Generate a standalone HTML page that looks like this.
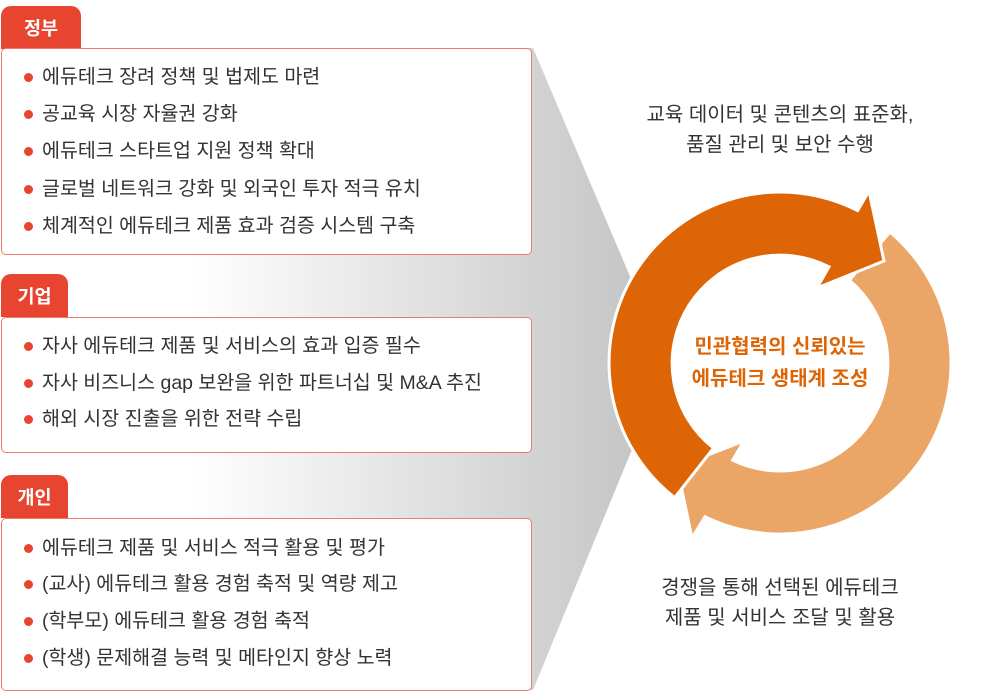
<!DOCTYPE html>
<html><head><meta charset="utf-8"><style>
body{margin:0;width:1000px;height:693px;background:#fff;position:relative;overflow:hidden;font-family:"Liberation Sans","Noto Sans CJK KR",sans-serif;}
svg{position:absolute;left:0;top:0}
.tab{position:absolute;left:1px;background:#e84530;color:#fff;font-weight:bold;font-size:18.5px;border-radius:10px 10px 0 0;display:flex;align-items:center;justify-content:center;height:43px;width:67px;}
.box{position:absolute;left:1px;width:531px;border:1.5px solid #ef7a6a;border-radius:5px;background:#fff;box-sizing:border-box;}
.it{position:absolute;left:22px;font-size:19.5px;color:#333;white-space:nowrap;line-height:22px;}
.it:before{content:"";position:absolute;left:0;top:7px;width:9px;height:9px;border-radius:50%;background:#e84530;}
.it span{padding-left:18px}
.lbl{position:absolute;text-align:center;font-size:20px;color:#333;line-height:30px;white-space:nowrap}
.ctr{position:absolute;left:660px;width:240px;text-align:center;color:#dd6506;font-weight:bold;font-size:20px;line-height:32px;top:331px}
</style></head><body>
<svg width="1000" height="693">
<defs><linearGradient id="g" x1="0" x2="640" y1="0" y2="0" gradientUnits="userSpaceOnUse"><stop offset="0.3" stop-color="#fff"/><stop offset="1" stop-color="#c4c5c5"/></linearGradient></defs>
<polygon points="0,48 533,48 640,300 640,430 533,690 0,690" fill="url(#g)"/>
<path d="M889.9 232 A171 171 0 0 1 705 516.7 L692 538 L677 467 L744 441 L732.7 460.1 A108 108 0 0 0 849.4 280.3 Z" fill="#eba566" stroke="#fff" stroke-width="3"/>
<path d="M674.7 497.7 A171 171 0 0 1 857.6 210.6 L869 191 L884 261 L817 288 L829 266.8 A108 108 0 0 0 713.5 448.1 Z" fill="#dd6506" stroke="#fff" stroke-width="3"/>
</svg>
<div class="tab" style="top:6px;width:80px">정부</div>
<div class="box" style="top:48px;height:207px">
<div class="it" style="top:17px"><span>에듀테크 장려 정책 및 법제도 마련</span></div>
<div class="it" style="top:54px"><span>공교육 시장 자율권 강화</span></div>
<div class="it" style="top:91px"><span>에듀테크 스타트업 지원 정책 확대</span></div>
<div class="it" style="top:129px"><span>글로벌 네트워크 강화 및 외국인 투자 적극 유치</span></div>
<div class="it" style="top:166px"><span>체계적인 에듀테크 제품 효과 검증 시스템 구축</span></div>
</div>
<div class="tab" style="top:274px">기업</div>
<div class="box" style="top:317px;height:136px">
<div class="it" style="top:17px"><span>자사 에듀테크 제품 및 서비스의 효과 입증 필수</span></div>
<div class="it" style="top:54px"><span>자사 비즈니스 gap 보완을 위한 파트너십 및 M&amp;A 추진</span></div>
<div class="it" style="top:90px"><span>해외 시장 진출을 위한 전략 수립</span></div>
</div>
<div class="tab" style="top:475px">개인</div>
<div class="box" style="top:518px;height:173px">
<div class="it" style="top:18px"><span>에듀테크 제품 및 서비스 적극 활용 및 평가</span></div>
<div class="it" style="top:54px"><span>(교사) 에듀테크 활용 경험 축적 및 역량 제고</span></div>
<div class="it" style="top:91px"><span>(학부모) 에듀테크 활용 경험 축적</span></div>
<div class="it" style="top:128px"><span>(학생) 문제해결 능력 및 메타인지 향상 노력</span></div>
</div>
<div class="lbl" style="left:630px;width:300px;top:100px">교육 데이터 및 콘텐츠의 표준화,<br>품질 관리 및 보안 수행</div>
<div class="lbl" style="left:630px;width:300px;top:573px">경쟁을 통해 선택된 에듀테크<br>제품 및 서비스 조달 및 활용</div>
<div class="ctr">민관협력의 신뢰있는<br>에듀테크 생태계 조성</div>
</body></html>
